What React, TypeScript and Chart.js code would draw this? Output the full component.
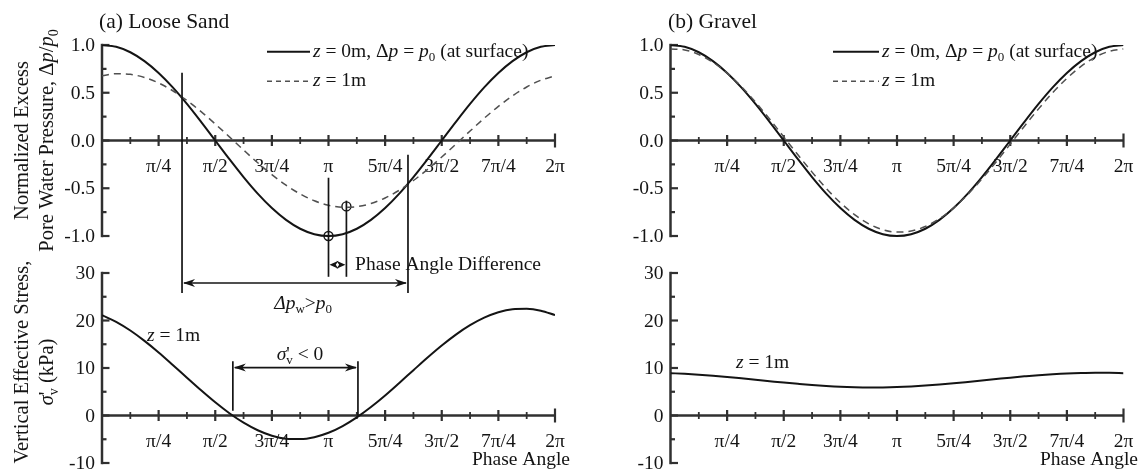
import { useEffect, useRef } from 'react';
import { Chart, registerables } from 'chart.js';

Chart.register(...registerables);

// ---------- data ----------
const PHASE = [
  0, 0.1963, 0.3927, 0.589, 0.7854, 0.9817, 1.1781, 1.3744, 1.5708, 1.7671, 1.9635,
  2.1598, 2.3562, 2.5525, 2.7489, 2.9452, 3.1416, 3.3379, 3.5343, 3.7306, 3.927,
  4.1233, 4.3197, 4.516, 4.7124, 4.9087, 5.1051, 5.3014, 5.4978, 5.6941, 5.8905,
  6.0868, 6.2832,
];

const SAND_SURFACE = [
  1, 0.981, 0.924, 0.831, 0.707, 0.556, 0.383, 0.195, 0, -0.195, -0.383, -0.556, -0.707,
  -0.831, -0.924, -0.981, -1, -0.981, -0.924, -0.831, -0.707, -0.556, -0.383, -0.195, 0,
  0.195, 0.383, 0.556, 0.707, 0.831, 0.924, 0.981, 1,
];
const SAND_1M = [
  0.678, 0.699, 0.693, 0.66, 0.602, 0.521, 0.419, 0.302, 0.173, 0.038, -0.099, -0.233,
  -0.357, -0.468, -0.56, -0.631, -0.678, -0.699, -0.693, -0.66, -0.602, -0.521, -0.419,
  -0.302, -0.173, -0.038, 0.099, 0.233, 0.357, 0.468, 0.56, 0.631, 0.678,
];
const SAND_STRESS = [
  21.13, 19.72, 17.89, 15.71, 13.28, 10.65, 7.96, 5.3, 2.77, 0.47, -1.51, -3.1, -4.25,
  -4.88, -4.97, -4.57, -3.64, -2.22, -0.39, 1.79, 4.22, 6.85, 9.54, 12.2, 14.73, 17.03,
  19.01, 20.6, 21.75, 22.38, 22.47, 22.07, 21.13,
];

const GRAVEL_SURFACE = [
  1, 0.981, 0.924, 0.831, 0.707, 0.556, 0.383, 0.195, 0, -0.195, -0.383, -0.556, -0.707,
  -0.831, -0.924, -0.981, -1, -0.981, -0.924, -0.831, -0.707, -0.556, -0.383, -0.195, 0,
  0.195, 0.383, 0.556, 0.707, 0.831, 0.924, 0.981, 1,
];
const GRAVEL_1M = [
  0.959, 0.948, 0.901, 0.819, 0.706, 0.565, 0.402, 0.225, 0.038, -0.15, -0.331, -0.501,
  -0.651, -0.776, -0.873, -0.934, -0.959, -0.948, -0.901, -0.819, -0.706, -0.565, -0.402,
  -0.225, -0.038, 0.15, 0.331, 0.501, 0.651, 0.776, 0.873, 0.934, 0.959,
];
const GRAVEL_STRESS = [
  8.91, 8.78, 8.6, 8.38, 8.12, 7.83, 7.53, 7.23, 6.93, 6.66, 6.41, 6.21, 6.05, 5.95, 5.9,
  5.92, 5.99, 6.12, 6.3, 6.52, 6.78, 7.07, 7.37, 7.67, 7.97, 8.24, 8.49, 8.69, 8.85, 8.95,
  9.0, 8.98, 8.91,
];

const PHASE_MARK_X = [3.1416, 3.39];
const PHASE_MARK_Y = [-1.0, -0.69];

const X_TICK_VALUES = [0.7854, 1.5708, 2.3562, 3.1416, 3.927, 4.7124, 5.4978, 6.2832];
const X_TICK_LABELS = ['π/4', 'π/2', '3π/4', 'π', '5π/4', '3π/2', '7π/4', '2π'];
const X_MINOR = [0.3927, 1.1781, 1.9635, 2.7489, 3.5343, 4.3197, 5.1051, 5.8905];

const P_TICKS = [1, 0.5, 0, -0.5, -1];
const P_TICK_LABELS = ['1.0', '0.5', '0.0', '-0.5', '-1.0'];
const P_MINOR = [0.75, 0.25, -0.25, -0.75];

const S_TICKS = [30, 20, 10, 0, -10];
const S_TICK_LABELS = ['30', '20', '10', '0', '-10'];
const S_MINOR = [25, 15, 5, -5];

// ---------- geometry / style ----------
const W = 1142;
const H = 472;
const TOP_MAX_PX = 45; // value 1.0
const TOP_MIN_PX = 236; // value -1.0
const BOT_MAX_PX = 273; // value 30
const BOT_MIN_PX = 463; // value -10
const TWO_PI = 6.2832;

const FAMILY = '"Liberation Serif", "Times New Roman", serif';
const FS = 19.5;
const TITLE_FS = 21.5;
const YTITLE_FS = 20.5;
const INK = '#141414';
const AXIS_INK = '#303030';

type Seg = { t: string; it?: boolean; sub?: boolean; under?: boolean };

function drawRich(
  ctx: CanvasRenderingContext2D,
  segs: Seg[],
  x: number,
  y: number,
  size: number,
  align: 'left' | 'center' | 'right',
) {
  const subSize = Math.round(size * 0.66);
  const font = (s: Seg) => `${s.it ? 'italic ' : ''}${s.sub ? subSize : size}px ${FAMILY}`;
  let total = 0;
  let prevStart = 0;
  const pos: number[] = [];
  for (const s of segs) {
    ctx.font = font(s);
    const w = ctx.measureText(s.t).width;
    if (s.under) {
      pos.push(prevStart);
      total = Math.max(total, prevStart + w);
    } else {
      pos.push(total);
      prevStart = total;
      total += w;
    }
  }
  const x0 = align === 'center' ? x - total / 2 : align === 'right' ? x - total : x;
  ctx.textAlign = 'left';
  ctx.textBaseline = 'middle';
  segs.forEach((s, i) => {
    ctx.font = font(s);
    ctx.fillText(s.t, x0 + pos[i], y + (s.sub ? size * 0.32 : 0));
  });
}

function seg(ctx: CanvasRenderingContext2D, x1: number, y1: number, x2: number, y2: number) {
  ctx.beginPath();
  ctx.moveTo(x1, y1);
  ctx.lineTo(x2, y2);
  ctx.stroke();
}

function head(ctx: CanvasRenderingContext2D, x: number, y: number, dir: number, len = 12) {
  ctx.beginPath();
  ctx.moveTo(x, y);
  ctx.lineTo(x - dir * len, y - 4);
  ctx.lineTo(x - dir * len * 0.7, y);
  ctx.lineTo(x - dir * len, y + 4);
  ctx.closePath();
  ctx.fill();
}

function doubleArrow(ctx: CanvasRenderingContext2D, x1: number, x2: number, y: number) {
  seg(ctx, x1 + 2, y, x2 - 2, y);
  head(ctx, x1 + 1, y, -1);
  head(ctx, x2 - 1, y, 1);
}

function drawPanel(
  ctx: CanvasRenderingContext2D,
  chart: any,
  yId: string,
  ticks: number[],
  labels: string[],
  minor: number[],
) {
  const xs = chart.scales.x;
  const ys = chart.scales[yId];
  const x0 = xs.getPixelForValue(0);
  const x2 = xs.getPixelForValue(TWO_PI);
  const ytop = ys.getPixelForValue(ticks[0]);
  const ybot = ys.getPixelForValue(ticks[ticks.length - 1]);
  const yz = ys.getPixelForValue(0);
  ctx.save();
  ctx.strokeStyle = AXIS_INK;
  ctx.lineWidth = 2.5;
  ctx.lineCap = 'butt';
  seg(ctx, x0, ytop - 1.2, x0, ybot + 1.2);
  seg(ctx, x0, yz, x2, yz);
  ctx.lineWidth = 2.2;
  ticks.forEach((v) => {
    const py = ys.getPixelForValue(v);
    seg(ctx, x0, py, x0 + 7.5, py);
  });
  minor.forEach((v) => {
    const py = ys.getPixelForValue(v);
    seg(ctx, x0, py, x0 + 4.5, py);
  });
  X_TICK_VALUES.forEach((v, i) => {
    const px = xs.getPixelForValue(v);
    const h = i === X_TICK_VALUES.length - 1 ? 7 : 5.5;
    seg(ctx, px, yz - h, px, yz + h);
  });
  ctx.lineWidth = 1.8;
  X_MINOR.forEach((v) => {
    const px = xs.getPixelForValue(v);
    seg(ctx, px, yz - 3.5, px, yz + 3.5);
  });
  ctx.fillStyle = INK;
  ctx.font = `${FS}px ${FAMILY}`;
  ctx.textBaseline = 'middle';
  ctx.textAlign = 'right';
  ticks.forEach((v, i) => {
    ctx.fillText(labels[i], x0 - 7, ys.getPixelForValue(v) + 1);
  });
  ctx.textAlign = 'center';
  X_TICK_VALUES.forEach((v, i) => {
    ctx.fillText(X_TICK_LABELS[i], xs.getPixelForValue(v), yz + 26);
  });
  ctx.restore();
}

function drawLegend(ctx: CanvasRenderingContext2D, chart: any, lx1: number, lx2: number) {
  const yt = chart.scales.yTop;
  const y1 = yt.getPixelForValue(0.93);
  const y2 = yt.getPixelForValue(0.62);
  ctx.save();
  ctx.strokeStyle = INK;
  ctx.lineWidth = 2;
  seg(ctx, lx1, y1, lx2, y1);
  ctx.strokeStyle = '#505050';
  ctx.lineWidth = 1.5;
  ctx.setLineDash([5, 4]);
  seg(ctx, lx1, y2, lx2, y2);
  ctx.setLineDash([]);
  ctx.fillStyle = INK;
  drawRich(
    ctx,
    [
      { t: 'z', it: true },
      { t: ' = 0m, Δ' },
      { t: 'p', it: true },
      { t: ' = ' },
      { t: 'p', it: true },
      { t: '0', sub: true },
      { t: ' (at surface)' },
    ],
    lx2 + 3,
    y1,
    FS,
    'left',
  );
  drawRich(ctx, [{ t: 'z', it: true }, { t: ' = 1m' }], lx2 + 3, y2, FS, 'left');
  ctx.restore();
}

function scaleRanges() {
  const topPerPx = 2 / (TOP_MIN_PX - TOP_MAX_PX);
  const botPerPx = 40 / (BOT_MIN_PX - BOT_MAX_PX);
  return {
    topMin: -1 - (BOT_MIN_PX - TOP_MIN_PX) * topPerPx,
    botMax: 30 + (BOT_MAX_PX - TOP_MAX_PX) * botPerPx,
  };
}

function lineDs(values: number[], yAxisID: string, dashed: boolean) {
  return {
    data: PHASE.map((x, i) => ({ x, y: values[i] })),
    xAxisID: 'x',
    yAxisID,
    borderColor: dashed ? '#505050' : INK,
    borderWidth: dashed ? 1.5 : 2,
    borderDash: dashed ? [7, 5] : [],
    pointRadius: 0,
    cubicInterpolationMode: 'monotone' as const,
    fill: false,
  };
}

function makeConfig(
  canvasWidth: number,
  plotLeft: number,
  plotRight: number,
  datasets: any[],
  draw: (ctx: CanvasRenderingContext2D, chart: any) => void,
) {
  const { topMin, botMax } = scaleRanges();
  return {
    type: 'line' as const,
    data: { datasets },
    options: {
      animation: false as const,
      responsive: false,
      maintainAspectRatio: false,
      devicePixelRatio: 1,
      events: [],
      layout: {
        padding: {
          left: plotLeft,
          right: canvasWidth - plotRight,
          top: TOP_MAX_PX,
          bottom: H - BOT_MIN_PX,
        },
      },
      plugins: { legend: { display: false }, tooltip: { enabled: false }, title: { display: false } },
      scales: {
        x: { type: 'linear' as const, min: 0, max: TWO_PI, display: false },
        yTop: { type: 'linear' as const, min: topMin, max: 1, display: false },
        yBot: { type: 'linear' as const, min: -10, max: botMax, display: false },
      },
    },
    plugins: [
      {
        id: 'panelAxes',
        beforeDatasetsDraw(chart: any) {
          const ctx = chart.ctx;
          drawPanel(ctx, chart, 'yTop', P_TICKS, P_TICK_LABELS, P_MINOR);
          drawPanel(ctx, chart, 'yBot', S_TICKS, S_TICK_LABELS, S_MINOR);
        },
        afterDatasetsDraw(chart: any) {
          draw(chart.ctx, chart);
        },
      },
    ],
  };
}

const LEFT_W = 590;
const RIGHT_X = 590;
const RIGHT_W = W - RIGHT_X;

function vTitle(ctx: CanvasRenderingContext2D, segs: Seg[], x: number, y: number) {
  ctx.save();
  ctx.translate(x, y);
  ctx.rotate(-Math.PI / 2);
  drawRich(ctx, segs, 0, 0, YTITLE_FS, 'center');
  ctx.restore();
}

function drawLeftExtras(ctx: CanvasRenderingContext2D, chart: any) {
  const xs = chart.scales.x;
  const yt = chart.scales.yTop;
  const yb = chart.scales.yBot;
  const X = (v: number) => xs.getPixelForValue(v);
  const YT = (v: number) => yt.getPixelForValue(v);
  const YB = (v: number) => yb.getPixelForValue(v);
  ctx.save();
  ctx.strokeStyle = INK;
  ctx.fillStyle = INK;
  ctx.lineWidth = 1.7;

  // Δp_w > p0 region
  seg(ctx, X(1.11), YT(0.71), X(1.11), YB(25.8));
  seg(ctx, X(4.244), YT(-0.15), X(4.244), YB(25.8));
  doubleArrow(ctx, X(1.11), X(4.244), YB(27.9));
  drawRich(
    ctx,
    [
      { t: 'Δp', it: true },
      { t: 'w', sub: true },
      { t: '>' },
      { t: 'p', it: true },
      { t: '0', sub: true },
    ],
    X(2.79),
    YB(23.6),
    FS,
    'center',
  );

  // phase angle difference
  seg(ctx, X(3.1416), YT(-0.39), X(3.1416), YB(29.2));
  seg(ctx, X(3.39), YT(-0.63), X(3.39), YB(29.2));
  const ya = YT(-1.3);
  const xa = X(3.1416);
  const xb = X(3.39);
  const mid = (xa + xb) / 2;
  head(ctx, xa + 1, ya, -1, mid - xa);
  head(ctx, xb - 1, ya, 1, xb - mid);
  drawRich(ctx, [{ t: 'Phase Angle Difference' }], X(3.51), ya, FS, 'left');

  // σ' < 0 region
  seg(ctx, X(1.815), YB(11.4), X(1.815), YB(1.0));
  seg(ctx, X(3.55), YB(11.4), X(3.55), YB(0));
  doubleArrow(ctx, X(1.815), X(3.55), YB(10.1));
  drawRich(
    ctx,
    [{ t: 'σ', it: true }, { t: "'" }, { t: 'v', sub: true, under: true }, { t: ' < 0' }],
    X(2.746),
    YB(12.8),
    FS,
    'center',
  );

  drawRich(ctx, [{ t: 'z', it: true }, { t: ' = 1m' }], X(0.624), YB(16.8), FS, 'left');
  drawRich(ctx, [{ t: 'Phase Angle' }], 570, YB(-9.3), FS, 'right');

  // title
  drawRich(ctx, [{ t: '(a) Loose Sand' }], 99, 22, TITLE_FS, 'left');

  // y-axis titles
  vTitle(ctx, [{ t: 'Normalized Excess' }], 23, (TOP_MAX_PX + TOP_MIN_PX) / 2);
  vTitle(
    ctx,
    [
      { t: 'Pore Water Pressure, Δ' },
      { t: 'p', it: true },
      { t: '/' },
      { t: 'p', it: true },
      { t: '0', sub: true },
    ],
    48,
    (TOP_MAX_PX + TOP_MIN_PX) / 2,
  );
  vTitle(ctx, [{ t: 'Vertical Effective Stress,' }], 23, 362);
  vTitle(
    ctx,
    [{ t: 'σ', it: true }, { t: "'" }, { t: 'v', sub: true, under: true }, { t: ' (kPa)' }],
    48,
    372,
  );

  ctx.restore();
  drawLegend(ctx, chart, 267, 310);
}

function drawRightExtras(ctx: CanvasRenderingContext2D, chart: any) {
  const xs = chart.scales.x;
  const yb = chart.scales.yBot;
  ctx.save();
  ctx.fillStyle = INK;
  drawRich(ctx, [{ t: 'z', it: true }, { t: ' = 1m' }], xs.getPixelForValue(0.908), yb.getPixelForValue(11.1), FS, 'left');
  drawRich(ctx, [{ t: 'Phase Angle' }], RIGHT_W - 4, yb.getPixelForValue(-9.3), FS, 'right');
  drawRich(ctx, [{ t: '(b) Gravel' }], 78, 22, TITLE_FS, 'left');
  ctx.restore();
  drawLegend(ctx, chart, 243, 289);
}

export default function App() {
  const leftRef = useRef<HTMLCanvasElement>(null);
  const rightRef = useRef<HTMLCanvasElement>(null);

  useEffect(() => {
    const left = new Chart(
      leftRef.current as HTMLCanvasElement,
      makeConfig(
        LEFT_W,
        102,
        555,
        [
          lineDs(SAND_1M, 'yTop', true),
          lineDs(SAND_SURFACE, 'yTop', false),
          lineDs(SAND_STRESS, 'yBot', false),
          {
            data: PHASE_MARK_X.map((x, i) => ({ x, y: PHASE_MARK_Y[i] })),
            xAxisID: 'x',
            yAxisID: 'yTop',
            showLine: false,
            pointRadius: 4.5,
            pointBorderWidth: 1.4,
            pointBorderColor: INK,
            pointBackgroundColor: 'rgba(255,255,255,0)',
          },
        ],
        drawLeftExtras,
      ) as any,
    );
    const right = new Chart(
      rightRef.current as HTMLCanvasElement,
      makeConfig(
        RIGHT_W,
        80.5,
        533.5,
        [
          lineDs(GRAVEL_1M, 'yTop', true),
          lineDs(GRAVEL_SURFACE, 'yTop', false),
          lineDs(GRAVEL_STRESS, 'yBot', false),
        ],
        drawRightExtras,
      ) as any,
    );
    return () => {
      left.destroy();
      right.destroy();
    };
  }, []);

  return (
    <div style={{ position: 'absolute', left: 0, top: 0, width: W, height: H, background: '#fff' }}>
      <canvas
        ref={leftRef}
        width={LEFT_W}
        height={H}
        style={{ position: 'absolute', left: 0, top: 0, width: LEFT_W, height: H }}
      />
      <canvas
        ref={rightRef}
        width={RIGHT_W}
        height={H}
        style={{ position: 'absolute', left: RIGHT_X, top: 0, width: RIGHT_W, height: H }}
      />
    </div>
  );
}
